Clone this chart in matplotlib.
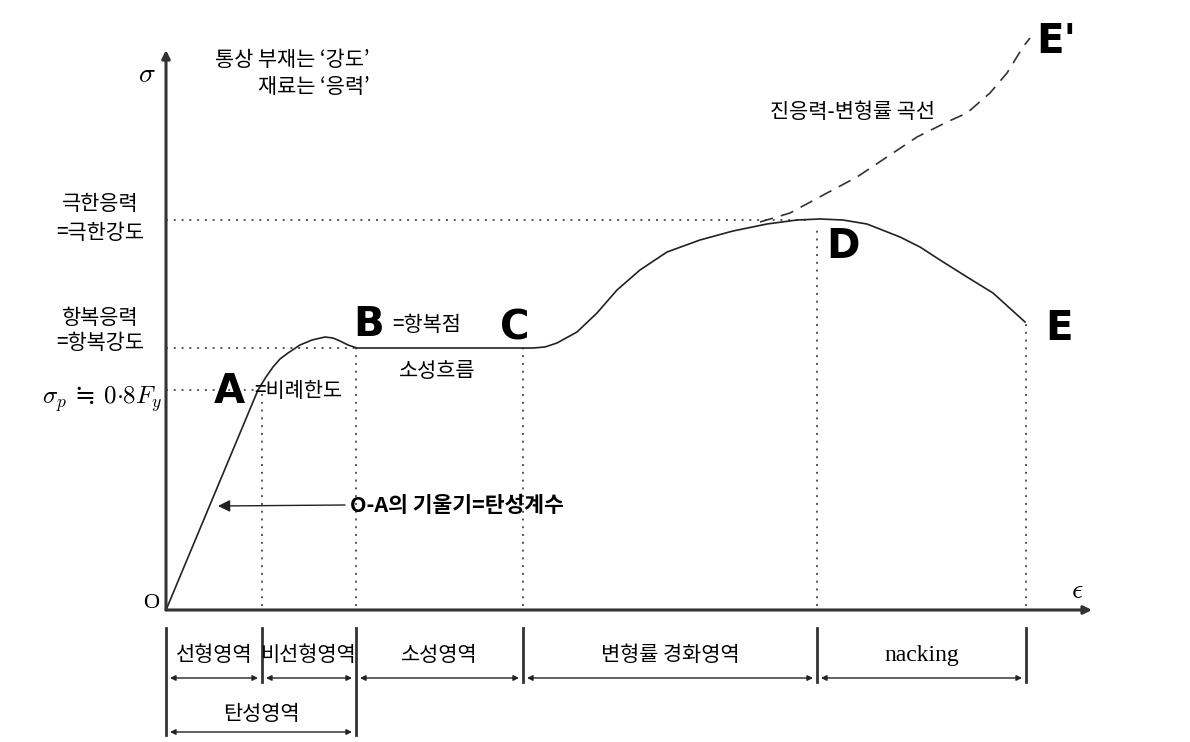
import numpy as np
import matplotlib.pyplot as plt

plt.rcParams['font.family'] = ['Noto Sans CJK KR', 'DejaVu Sans']
plt.rcParams['mathtext.fontset'] = 'cm'

# engineering stress-strain curve (schematic units, origin at O)
strain = [0, 92, 100, 107, 114, 122, 134, 146, 159, 167, 174, 182, 191,
          367, 379, 391, 411, 431, 451, 474, 501, 534, 567, 601, 631, 654,
          677, 701, 734, 754, 774, 801, 827, 859]
stress = [0, 220, 233, 243, 251, 257, 265, 270, 273, 272, 269, 265, 262,
          262, 263, 267, 278, 297, 320, 340, 358, 370, 379, 386, 390, 391,
          390, 386, 373, 363, 350, 333, 317, 288]

# true stress-strain curve (dashed)
true_strain = [594, 624, 661, 691, 721, 751, 781, 801, 824, 841, 857, 864]
true_stress = [388, 397, 417, 433, 453, 473, 488, 497, 517, 537, 563, 572]

# characteristic points
point_names = ['A', 'B', 'C', 'D', 'E']
point_strain = [96, 190, 357, 651, 860]
point_top = [220, 262, 262, 382, 288]

sigma_ult = 390
sigma_yield = 262
sigma_prop = 220

# regions along the strain axis
region_edges = [0, 96, 190, 357, 651, 860]
region_labels = ['선형영역', '비선형영역', '소성영역', '변형률 경화영역', 'nacking']
elastic_label = '탄성영역'


def P(px, py):
    # pixel position of the reference -> axes units
    return px - 166, 610 - py


fig = plt.figure(figsize=(11.9, 7.42), dpi=100)
ax = fig.add_axes([0, 0, 1, 1])
ax.set_xlim(-166, 1024)
ax.set_ylim(-132, 610)
ax.axis('off')

dot = dict(color='#555555', lw=1.4, linestyle=(0, (1, 3)))

# guide lines
ax.plot([0, 645], [sigma_ult, sigma_ult], **dot)
ax.plot([0, point_strain[1]], [sigma_yield, sigma_yield], **dot)
ax.plot([0, 88], [sigma_prop, sigma_prop], **dot)
for xs, top in zip(point_strain, point_top):
    ax.plot([xs, xs], [4, top], **dot)

# curves
ax.plot(strain, stress, color='#222222', lw=1.2)
ax.plot(true_strain, true_stress, color='#333333', lw=1.2, linestyle=(0, (8, 5)))

# axes with arrows
ax.annotate('', xy=(0, 560), xytext=(0, 0),
            arrowprops=dict(arrowstyle='-|>', lw=2.2, color='#333333', mutation_scale=12,
                            shrinkA=0, shrinkB=0))
ax.annotate('', xy=(926, 0), xytext=(0, 0),
            arrowprops=dict(arrowstyle='-|>', lw=2.2, color='#333333', mutation_scale=12,
                            shrinkA=0, shrinkB=0))
ax.text(*P(147, 74), r'$\sigma$', fontsize=20, ha='center', va='center')
ax.text(*P(1077, 590), r'$\epsilon$', fontsize=20, ha='center', va='center')
ax.text(*P(151, 603), 'O', fontsize=16, ha='center', va='center', family='Liberation Serif')

# point letters
letter = dict(fontsize=29, fontweight='bold', family='DejaVu Sans', ha='left', va='baseline')
ax.text(*P(214, 403), 'A', **letter)
ax.text(*P(353, 336), 'B', **letter)
ax.text(*P(500, 339), 'C', **letter)
ax.text(*P(826, 258), 'D', **letter)
ax.text(*P(1045, 340), 'E', **letter)
ax.text(*P(1036, 53), "E'", **letter)

# annotations
fs = 15
ax.text(*P(370, 60), '통상 부재는 ‘강도’', fontsize=fs, ha='right', va='center')
ax.text(*P(370, 87), '재료는 ‘응력’', fontsize=fs, ha='right', va='center')
ax.text(*P(100, 204), '극한응력', fontsize=fs, ha='center', va='center')
ax.text(*P(100, 233), '=극한강도', fontsize=fs, ha='center', va='center')
ax.text(*P(100, 318), '항복응력', fontsize=fs, ha='center', va='center')
ax.text(*P(100, 343), '=항복강도', fontsize=fs, ha='center', va='center')
ax.text(*P(162, 399), r'$\sigma_p$ ≒ $0{\cdot}8F_y$', fontsize=18, ha='right', va='center',
        family=['DejaVu Serif', 'Noto Sans CJK KR'])
ax.text(*P(254, 391), '=비례한도', fontsize=fs, ha='left', va='center')
ax.text(*P(392, 325), '=항복점', fontsize=fs, ha='left', va='center')
ax.text(*P(437, 371), '소성흐름', fontsize=fs, ha='center', va='center')
ax.text(*P(852, 112), '진응력-변형률 곡선', fontsize=fs, ha='center', va='center')
ax.text(*P(350, 505), 'O-A의 기울기=탄성계수', fontsize=15.5, fontweight='bold', ha='left', va='center')
ax.annotate('', xy=P(218, 506), xytext=P(345, 505),
            arrowprops=dict(arrowstyle='-|>', lw=1.0, color='#222222', mutation_scale=18,
                            shrinkA=0, shrinkB=0))

# region brackets below the strain axis
bar = dict(color='#333333', lw=2.0)
long_bars = [0, 2]
for i, xe in enumerate(region_edges):
    bottom = 735 if i in long_bars else 682
    ax.plot([xe, xe], [P(0, 628)[1], P(0, bottom)[1]], **bar)

arr = dict(arrowstyle='<|-|>', lw=1.0, color='#222222', mutation_scale=8, shrinkA=0, shrinkB=0)
y_arr = P(0, 678)[1]
for i, lab in enumerate(region_labels):
    x0, x1 = region_edges[i], region_edges[i + 1]
    ax.annotate('', xy=(x1 - 4, y_arr), xytext=(x0 + 4, y_arr), arrowprops=arr)
    if lab == 'nacking':
        ax.text((x0 + x1) / 2, P(0, 655)[1], lab, fontsize=17, ha='center', va='center',
                family='Liberation Serif')
    else:
        ax.text((x0 + x1) / 2, P(0, 655)[1], lab, fontsize=fs, ha='center', va='center')

y_arr2 = P(0, 732)[1]
ax.annotate('', xy=(region_edges[2] - 4, y_arr2), xytext=(region_edges[0] + 4, y_arr2), arrowprops=arr)
ax.text((region_edges[0] + region_edges[2]) / 2, P(0, 714)[1], elastic_label,
        fontsize=fs, ha='center', va='center')

fig.savefig('out.png', dpi=100)
